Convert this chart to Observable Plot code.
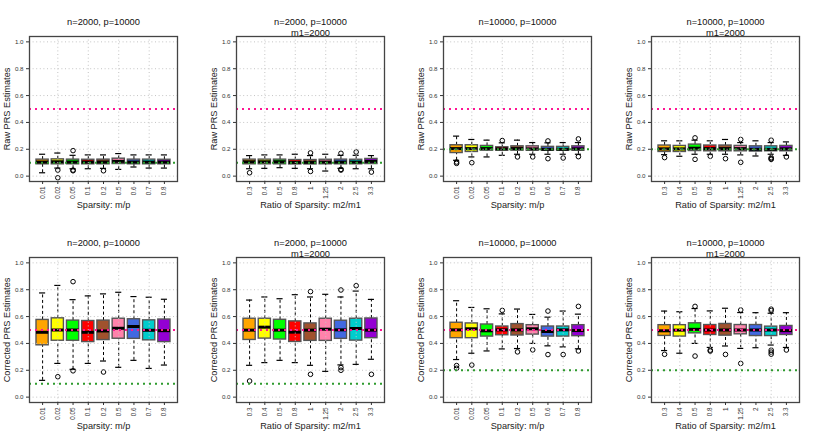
<!DOCTYPE html>
<html><head><meta charset="utf-8">
<script src="https://cdn.jsdelivr.net/npm/d3@7"></script>
<script src="https://cdn.jsdelivr.net/npm/@observablehq/plot@0.6"></script>
<style>
body{margin:0;background:#fff;}
#wrap{position:relative;width:830px;height:443px;overflow:hidden;background:#fff;}
#wrap > svg{position:absolute;}
</style></head><body><div id="wrap"></div>
<script>
// ---- categories / tick labels ----
const sparsityLabels = ["0.01","0.02","0.05","0.1","0.2","0.5","0.6","0.7","0.8"];
const ratioLabels = ["0.3","0.4","0.5","0.8","1","1.25","2","2.5","3.3"];
const boxColors = ["#FFA500","#FFFF00","#00FF00","#FF0000","#A0522D","#FF82AB","#4169E1","#00CDCD","#9400D3"];
const yTicks = [0, 0.2, 0.4, 0.6, 0.8, 1.0];
const trueHeritability = 0.5;
const rawExpected = [0.1, 0.1, 0.2, 0.2, 0.1, 0.1, 0.2, 0.2];
const panelTitles = ["n=2000, p=10000","n=2000, p=10000","n=10000, p=10000","n=10000, p=10000",
                     "n=2000, p=10000","n=2000, p=10000","n=10000, p=10000","n=10000, p=10000"];
const panelSubtitles = ["","m1=2000","","m1=2000","","m1=2000","","m1=2000"];

// ---- box statistics (whisker low, Q1, median, Q3, whisker high, outliers) ----
const rawN2kSparsity = {
  lo:  [0.025,0.06,0.055,0.055,0.058,0.05,0.068,0.06,0.06],
  q1:  [0.088,0.088,0.088,0.088,0.088,0.09,0.088,0.088,0.088],
  med: [0.105,0.107,0.105,0.105,0.105,0.11,0.105,0.105,0.105],
  q3:  [0.123,0.125,0.123,0.122,0.123,0.13,0.123,0.123,0.122],
  hi:  [0.163,0.172,0.155,0.158,0.158,0.168,0.158,0.158,0.158],
  out: [[],[0.045,-0.012],[0.19,0.045,0.04],[],[0.04],[],[],[],[]]
};
const rawN2kRatio = {
  lo:  [0.055,0.058,0.063,0.058,0.055,0.038,0.058,0.055,0.055],
  q1:  [0.088,0.088,0.088,0.087,0.087,0.088,0.088,0.088,0.09],
  med: [0.107,0.107,0.107,0.103,0.103,0.105,0.105,0.105,0.11],
  q3:  [0.123,0.123,0.123,0.12,0.12,0.122,0.123,0.122,0.128],
  hi:  [0.153,0.158,0.158,0.163,0.153,0.163,0.155,0.155,0.153],
  out: [[0.025],[],[],[],[0.173,0.035],[],[0.17,0.05,0.045],[0.18],[0.03]]
};
const rawN10kSparsity = {
  lo:  [0.118,0.143,0.143,0.155,0.163,0.163,0.163,0.163,0.163],
  q1:  [0.172,0.18,0.19,0.19,0.19,0.19,0.19,0.19,0.19],
  med: [0.205,0.205,0.205,0.203,0.205,0.203,0.2,0.2,0.203],
  q3:  [0.23,0.23,0.225,0.215,0.222,0.222,0.218,0.218,0.222],
  hi:  [0.298,0.273,0.268,0.248,0.268,0.25,0.248,0.25,0.25],
  out: [[0.105,0.095],[0.1],[],[0.265],[0.143],[0.143],[0.262,0.13],[0.135],[0.277,0.145]]
};
const rawN10kRatio = {
  lo:  [0.16,0.148,0.163,0.163,0.163,0.158,0.15,0.163,0.155],
  q1:  [0.18,0.18,0.187,0.185,0.185,0.185,0.183,0.185,0.185],
  med: [0.203,0.203,0.208,0.205,0.205,0.205,0.2,0.2,0.203],
  q3:  [0.228,0.225,0.235,0.228,0.228,0.225,0.222,0.222,0.225],
  hi:  [0.263,0.263,0.268,0.263,0.273,0.25,0.263,0.25,0.255],
  out: [[0.138],[],[0.285,0.125],[0.148],[0.13],[0.273,0.103],[],[0.268,0.138,0.13,0.125],[0.143]]
};
const corN2kSparsity = {
  lo:  [0.125,0.251,0.207,0.251,0.269,0.222,0.274,0.214,0.239],
  q1:  [0.386,0.42,0.42,0.41,0.425,0.435,0.434,0.423,0.41],
  med: [0.483,0.5,0.5,0.483,0.493,0.513,0.526,0.498,0.495],
  q3:  [0.575,0.587,0.57,0.567,0.57,0.584,0.58,0.572,0.578],
  hi:  [0.776,0.832,0.726,0.754,0.769,0.781,0.749,0.744,0.729],
  out: [[],[0.152],[0.86,0.196],[],[0.187],[],[],[],[]]
};
const corN2kRatio = {
  lo:  [0.237,0.257,0.274,0.257,0.237,0.192,0.24,0.244,0.282],
  q1:  [0.426,0.436,0.429,0.411,0.419,0.419,0.434,0.421,0.439],
  med: [0.499,0.521,0.499,0.484,0.499,0.506,0.501,0.511,0.499],
  q3:  [0.584,0.584,0.576,0.564,0.549,0.584,0.569,0.584,0.586],
  hi:  [0.723,0.746,0.733,0.763,0.746,0.766,0.746,0.79,0.728],
  out: [[0.12],[],[],[],[0.786,0.17],[],[0.798,0.22,0.2],[0.83],[0.17]]
};
const corN10kSparsity = {
  lo:  [0.28,0.327,0.344,0.359,0.362,0.4,0.382,0.374,0.36],
  q1:  [0.439,0.439,0.451,0.461,0.459,0.466,0.451,0.451,0.454],
  med: [0.501,0.509,0.494,0.501,0.501,0.509,0.489,0.501,0.496],
  q3:  [0.554,0.549,0.541,0.526,0.544,0.536,0.526,0.526,0.536],
  hi:  [0.718,0.668,0.658,0.62,0.656,0.616,0.596,0.641,0.618],
  out: [[0.235,0.215],[0.239],[],[0.646],[0.337],[0.352],[0.641,0.317],[0.317],[0.676,0.344]]
};
const corN10kRatio = {
  lo:  [0.347,0.327,0.4,0.37,0.381,0.363,0.368,0.388,0.37],
  q1:  [0.456,0.451,0.475,0.463,0.458,0.468,0.455,0.455,0.463],
  med: [0.494,0.499,0.505,0.5,0.5,0.5,0.5,0.5,0.495],
  q3:  [0.536,0.536,0.55,0.537,0.545,0.537,0.537,0.525,0.53],
  hi:  [0.641,0.636,0.66,0.642,0.662,0.63,0.629,0.625,0.629],
  out: [[0.319],[],[0.676,0.306],[0.35,0.343],[0.318],[0.649,0.251],[],[0.655,0.645,0.35,0.335,0.32],[0.351]]
};

const panels = [
  {data: rawN2kSparsity,  labels: sparsityLabels, xlabel: "Sparsity: m/p",          ylabel: "Raw PRS Estimates"},
  {data: rawN2kRatio,     labels: ratioLabels,    xlabel: "Ratio of Sparsity: m2/m1", ylabel: "Raw PRS Estimates"},
  {data: rawN10kSparsity, labels: sparsityLabels, xlabel: "Sparsity: m/p",          ylabel: "Raw PRS Estimates"},
  {data: rawN10kRatio,    labels: ratioLabels,    xlabel: "Ratio of Sparsity: m2/m1", ylabel: "Raw PRS Estimates"},
  {data: corN2kSparsity,  labels: sparsityLabels, xlabel: "Sparsity: m/p",          ylabel: "Corrected PRS Estimates"},
  {data: corN2kRatio,     labels: ratioLabels,    xlabel: "Ratio of Sparsity: m2/m1", ylabel: "Corrected PRS Estimates"},
  {data: corN10kSparsity, labels: sparsityLabels, xlabel: "Sparsity: m/p",          ylabel: "Corrected PRS Estimates"},
  {data: corN10kRatio,    labels: ratioLabels,    xlabel: "Ratio of Sparsity: m2/m1", ylabel: "Corrected PRS Estimates"}
];

const W = 208, H = 221, ML = 29, MR = 31, MT = 36, MB = 40;
const lefts = [0, 207, 414, 622];
const FONT = "'Liberation Sans', Arial, Helvetica, sans-serif";
const wrap = document.getElementById("wrap");

panels.forEach((pn, k) => {
  const d = pn.data;
  const rows = d3.range(9).map(i => ({
    x: i + 1, lo: d.lo[i], q1: d.q1[i], med: d.med[i], q3: d.q3[i], hi: d.hi[i], color: boxColors[i]
  }));
  const outs = d3.range(9).flatMap(i => d.out[i].map(v => ({x: i + 1, y: v})));
  const titleRow = [{t: panelTitles[k], s: panelSubtitles[k], xl: pn.xlabel, yl: pn.ylabel}];
  const hw = 0.4, sw = 0.2;
  const svg = Plot.plot({
    width: W, height: H, marginLeft: ML, marginRight: MR, marginTop: MT, marginBottom: MB,
    style: {fontFamily: FONT, background: "transparent", overflow: "visible"},
    x: {domain: [0.14, 9.86], axis: null},
    y: {domain: [-0.04, 1.04], axis: null},
    color: {type: "identity"},
    marks: [
      // whiskers
      Plot.ruleX(rows, {x: "x", y1: "q3", y2: "hi", stroke: "black", strokeWidth: 1, strokeDasharray: "3,2.5"}),
      Plot.ruleX(rows, {x: "x", y1: "lo", y2: "q1", stroke: "black", strokeWidth: 1, strokeDasharray: "3,2.5"}),
      Plot.ruleY(rows, {y: "hi", x1: r => r.x - sw, x2: r => r.x + sw, stroke: "black", strokeWidth: 1.2}),
      Plot.ruleY(rows, {y: "lo", x1: r => r.x - sw, x2: r => r.x + sw, stroke: "black", strokeWidth: 1.2}),
      // boxes
      Plot.rect(rows, {x1: r => r.x - hw, x2: r => r.x + hw, y1: "q1", y2: "q3", fill: "color", stroke: "#555", strokeWidth: 1.4}),
      Plot.ruleY(rows, {y: "med", x1: r => r.x - hw, x2: r => r.x + hw, stroke: "black", strokeWidth: 3}),
      // outliers
      Plot.dot(outs, {x: "x", y: "y", r: 2.3, stroke: "black", strokeWidth: 1, fill: "none"}),
      // grid
      Plot.ruleY(yTicks, {stroke: "#c4c4c4", strokeWidth: 1, strokeDasharray: "1,2.6"}),
      Plot.ruleX([2, 4, 6, 8], {stroke: "#c4c4c4", strokeWidth: 1, strokeDasharray: "1,2.6"}),
      // reference lines
      Plot.ruleY([trueHeritability], {stroke: "#FF1493", strokeWidth: 2, strokeDasharray: "2,4"}),
      Plot.ruleY([rawExpected[k]], {stroke: "#2E9B2E", strokeWidth: 2, strokeDasharray: "2,4"}),
      Plot.frame({stroke: "#444", strokeWidth: 1.3}),
      // axes
      Plot.axisX({ticks: d3.range(1, 10), tickFormat: v => pn.labels[v - 1], tickRotate: -90,
                  tickSize: 3, tickPadding: 2, fontSize: 6.3, label: null, color: "#333"}),
      Plot.axisY({ticks: yTicks, tickFormat: d3.format(".1f"), tickSize: 3, tickPadding: 3,
                  fontSize: 6.2, label: null, color: "#333"}),
      // titles and axis labels
      Plot.text(titleRow, {text: "t", frameAnchor: "top", dy: -14.3, lineAnchor: "middle", textAnchor: "middle", fontSize: 9.3, fill: "#111"}),
      Plot.text(titleRow, {text: "s", frameAnchor: "top", dy: -3.7, lineAnchor: "middle", textAnchor: "middle", fontSize: 9.3, fill: "#111"}),
      Plot.text(titleRow, {text: "xl", frameAnchor: "bottom", dy: 24, lineAnchor: "middle", textAnchor: "middle", fontSize: 9.2, fill: "#222"}),
      Plot.text(titleRow, {text: "yl", frameAnchor: "left", dx: -22, rotate: -90, lineAnchor: "middle", textAnchor: "middle", fontSize: 9.2, fill: "#222"})
    ]
  });
  svg.style.left = lefts[k % 4] + "px";
  svg.style.top = (k < 4 ? 0 : H) + "px";
  wrap.appendChild(svg);
});
</script>
</body></html>
